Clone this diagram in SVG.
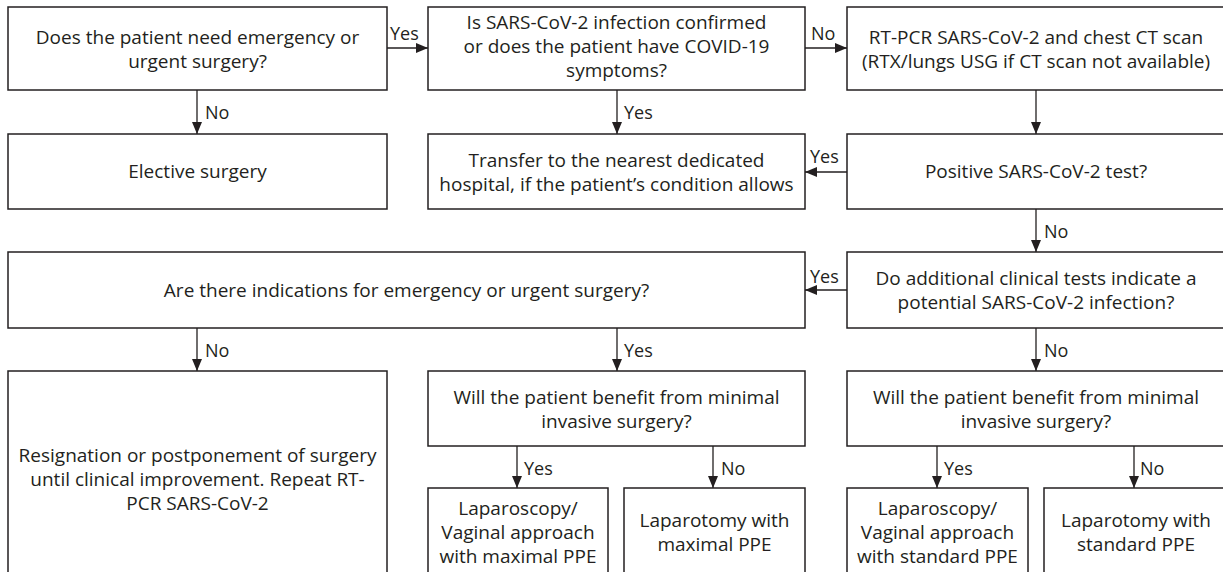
<svg xmlns="http://www.w3.org/2000/svg" width="1223" height="572" viewBox="0 0 1223 572">
<style>
.box{fill:#fff;stroke:#231f20;stroke-width:1.5}
.t{font-family:"Open Sans","Noto Sans","Liberation Sans",sans-serif;font-size:19px;fill:#231f20;text-anchor:middle}
.l{font-family:"Open Sans","Noto Sans","Liberation Sans",sans-serif;font-size:18px;fill:#231f20}
.c{stroke:#231f20;stroke-width:1.3;fill:none;marker-end:url(#ah)}
</style>
<defs>
<marker id="ah" viewBox="0 0 12 10" refX="12" refY="5" markerWidth="12" markerHeight="10" markerUnits="userSpaceOnUse" orient="auto">
<path d="M0,0 L12,5 L0,10 Z" fill="#231f20"/>
</marker>
</defs>
<rect width="1223" height="572" fill="#fff"/>
<g id="connectors">
<line class="c" x1="387" y1="48" x2="428" y2="48"/>
<line class="c" x1="805" y1="48" x2="847" y2="48"/>
<line class="c" x1="197" y1="90" x2="197" y2="134"/>
<line class="c" x1="617" y1="90" x2="617" y2="134"/>
<line class="c" x1="1036" y1="90" x2="1036" y2="134"/>
<line class="c" x1="847" y1="172" x2="805" y2="172"/>
<line class="c" x1="1036" y1="209" x2="1036" y2="252"/>
<line class="c" x1="847" y1="290" x2="805" y2="290"/>
<line class="c" x1="197" y1="328" x2="197" y2="371"/>
<line class="c" x1="617" y1="328" x2="617" y2="371"/>
<line class="c" x1="1036" y1="328" x2="1036" y2="371"/>
<line class="c" x1="517" y1="446" x2="517" y2="488"/>
<line class="c" x1="713" y1="446" x2="713" y2="488"/>
<line class="c" x1="937" y1="446" x2="937" y2="488"/>
<line class="c" x1="1134" y1="446" x2="1134" y2="488"/>
<text class="l" x="390" y="40">Yes</text>
<text class="l" x="811" y="40">No</text>
<text class="l" x="205" y="119">No</text>
<text class="l" x="624" y="119">Yes</text>
<text class="l" x="810" y="163">Yes</text>
<text class="l" x="1044" y="238">No</text>
<text class="l" x="810" y="283">Yes</text>
<text class="l" x="205" y="357">No</text>
<text class="l" x="624" y="357">Yes</text>
<text class="l" x="1044" y="357">No</text>
<text class="l" x="524" y="475">Yes</text>
<text class="l" x="721" y="475">No</text>
<text class="l" x="944" y="475">Yes</text>
<text class="l" x="1140" y="475">No</text>
</g>
<g id="n1">
<rect class="box" x="8" y="7" width="379" height="83"/>
<text class="t" x="197.5" y="44">Does the patient need emergency or</text>
<text class="t" x="197.5" y="68">urgent surgery?</text>
</g>
<g id="n2">
<rect class="box" x="428" y="7" width="377" height="83"/>
<text class="t" x="616.5" y="29">Is SARS-CoV-2 infection confirmed</text>
<text class="t" x="616.5" y="53">or does the patient have COVID-19</text>
<text class="t" x="616.5" y="77">symptoms?</text>
</g>
<g id="n3">
<rect class="box" x="847" y="7" width="390" height="83"/>
<text class="t" x="1036" y="44">RT-PCR SARS-CoV-2 and chest CT scan</text>
<text class="t" x="1036" y="68">(RTX/lungs USG if CT scan not available)</text>
</g>
<g id="n4">
<rect class="box" x="8" y="134" width="379" height="75"/>
<text class="t" x="197.5" y="178">Elective surgery</text>
</g>
<g id="n5">
<rect class="box" x="428" y="134" width="377" height="75"/>
<text class="t" x="616.5" y="167">Transfer to the nearest dedicated</text>
<text class="t" x="616.5" y="191">hospital, if the patient’s condition allows</text>
</g>
<g id="n6">
<rect class="box" x="847" y="134" width="390" height="75"/>
<text class="t" x="1036" y="178">Positive SARS-CoV-2 test?</text>
</g>
<g id="n7">
<rect class="box" x="8" y="252" width="797" height="76"/>
<text class="t" x="406.5" y="297">Are there indications for emergency or urgent surgery?</text>
</g>
<g id="n8">
<rect class="box" x="847" y="252" width="390" height="76"/>
<text class="t" x="1036" y="285">Do additional clinical tests indicate a</text>
<text class="t" x="1036" y="309">potential SARS-CoV-2 infection?</text>
</g>
<g id="n9">
<rect class="box" x="8" y="371" width="379" height="220"/>
<text class="t" x="197.5" y="462">Resignation or postponement of surgery</text>
<text class="t" x="197.5" y="486">until clinical improvement. Repeat RT-</text>
<text class="t" x="197.5" y="510">PCR SARS-CoV-2</text>
</g>
<g id="n10">
<rect class="box" x="428" y="371" width="377" height="75"/>
<text class="t" x="616.5" y="404">Will the patient benefit from minimal</text>
<text class="t" x="616.5" y="428">invasive surgery?</text>
</g>
<g id="n11">
<rect class="box" x="847" y="371" width="390" height="75"/>
<text class="t" x="1036" y="404">Will the patient benefit from minimal</text>
<text class="t" x="1036" y="428">invasive surgery?</text>
</g>
<g id="n12">
<rect class="box" x="428" y="488" width="180" height="100"/>
<text class="t" x="518" y="515">Laparoscopy/</text>
<text class="t" x="518" y="539">Vaginal approach</text>
<text class="t" x="518" y="563">with maximal PPE</text>
</g>
<g id="n13">
<rect class="box" x="624" y="488" width="181" height="100"/>
<text class="t" x="714.5" y="527">Laparotomy with</text>
<text class="t" x="714.5" y="551">maximal PPE</text>
</g>
<g id="n14">
<rect class="box" x="847" y="488" width="181" height="100"/>
<text class="t" x="937.5" y="515">Laparoscopy/</text>
<text class="t" x="937.5" y="539">Vaginal approach</text>
<text class="t" x="937.5" y="563">with standard PPE</text>
</g>
<g id="n15">
<rect class="box" x="1044" y="488" width="193" height="100"/>
<text class="t" x="1136" y="527">Laparotomy with</text>
<text class="t" x="1136" y="551">standard PPE</text>
</g>
</svg>
